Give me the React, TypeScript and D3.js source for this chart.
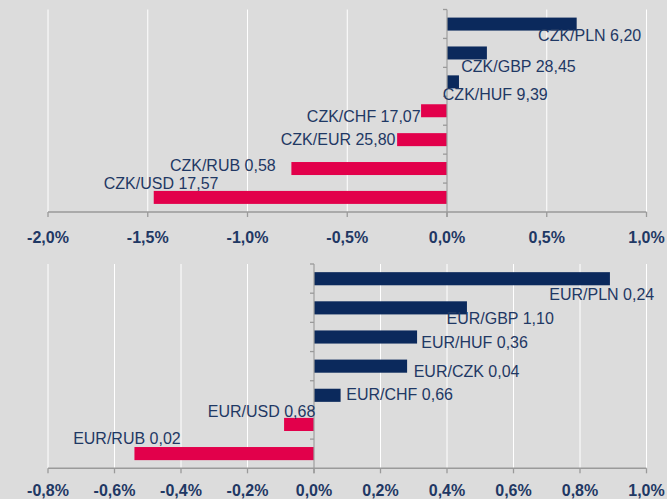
import React from "react";
import * as d3 from "d3";

// ---- data ----
const czkPairs = ["CZK/PLN", "CZK/GBP", "CZK/HUF", "CZK/CHF", "CZK/EUR", "CZK/RUB", "CZK/USD"];
const czkRates = ["6,20", "28,45", "9,39", "17,07", "25,80", "0,58", "17,57"];
const czkChange = [0.65, 0.2, 0.06, -0.13, -0.25, -0.78, -1.47];
const czkTicks = [-2.0, -1.5, -1.0, -0.5, 0.0, 0.5, 1.0];

const eurPairs = ["EUR/PLN", "EUR/GBP", "EUR/HUF", "EUR/CZK", "EUR/CHF", "EUR/USD", "EUR/RUB"];
const eurRates = ["0,24", "1,10", "0,36", "0,04", "0,66", "0,68", "0,02"];
const eurChange = [0.89, 0.46, 0.31, 0.28, 0.08, -0.09, -0.54];
const eurTicks = [-0.8, -0.6, -0.4, -0.2, 0.0, 0.2, 0.4, 0.6, 0.8, 1.0];

// ---- layout (label nudges in px relative to bar end / band centre) ----
const czkLabelNudge = [[13, 11.5], [31.6, 13.5], [36.3, 12.2], [-57.3, 5.5], [-59, -0.5], [-68.6, -2.8], [7.4, -13.8]];
const eurLabelNudge = [[-8.2, 15.5], [33.2, 11], [57.5, 5.2], [59.5, 5.4], [59, -0.9], [-22.5, -13.3], [-7.5, -14.8]];

const W = 667;
const H = 499;
const BG = "#dcdcdc";
const NAVY = "#0b295c";
const RED = "#e2004b";
const TEXT = "#1f3864";
const AXIS = "#9a9a9a";
const FONT = "'Liberation Sans', Arial, sans-serif";

const fmt = (v: number) => v.toFixed(1).replace(".", ",") + "%";

type PanelProps = {
  pairs: string[];
  rates: string[];
  values: number[];
  ticks: number[];
  nudges: number[][];
  x0: number;
  x1: number;
  yTop: number;
  yAxis: number;
  labelY: number;
};

function Panel({ pairs, rates, values, ticks, nudges, x0, x1, yTop, yAxis, labelY }: PanelProps) {
  const x = d3.scaleLinear().domain([ticks[0], ticks[ticks.length - 1]]).range([x0, x1]);
  const y = d3.scaleBand<string>().domain(pairs).range([yTop, yAxis]).paddingInner(0.55).paddingOuter(0.28);
  const zx = x(0);
  const step = (yAxis - yTop) / pairs.length;
  const boundaries = d3.range(pairs.length).map((i) => yTop + i * step);
  return (
    <g>
      {ticks.map((t) => (
        <line key={"g" + t} x1={x(t)} x2={x(t)} y1={yTop} y2={yAxis} stroke="#ffffff" strokeWidth={1} />
      ))}
      {pairs.map((p, i) => {
        const v = values[i];
        return (
          <rect
            key={p}
            x={Math.min(x(v), zx)}
            width={Math.abs(x(v) - zx)}
            y={y(p)}
            height={y.bandwidth()}
            fill={v >= 0 ? NAVY : RED}
          />
        );
      })}
      <line x1={zx} x2={zx} y1={yTop} y2={yAxis + 5} stroke={AXIS} strokeWidth={1.3} />
      {boundaries.map((b, i) => (
        <line key={"yt" + i} x1={zx - 4} x2={zx} y1={b} y2={b} stroke={AXIS} strokeWidth={1.3} />
      ))}
      <line x1={x0} x2={x1} y1={yAxis} y2={yAxis} stroke={AXIS} strokeWidth={1.5} />
      {ticks.map((t) => (
        <line key={"t" + t} x1={x(t)} x2={x(t)} y1={yAxis} y2={yAxis + 5} stroke={AXIS} strokeWidth={1.3} />
      ))}
      {ticks.map((t) => (
        <text
          key={"l" + t}
          x={x(t)}
          y={labelY}
          textAnchor="middle"
          dominantBaseline="central"
          fontFamily={FONT}
          fontWeight="bold"
          fontSize={16}
          fill={TEXT}
        >
          {fmt(t)}
        </text>
      ))}
      {pairs.map((p, i) => {
        const v = values[i];
        const cx = x(v) + nudges[i][0];
        const cy = (y(p) as number) + y.bandwidth() / 2 + nudges[i][1];
        return (
          <text
            key={"dl" + p}
            x={cx}
            y={cy}
            textAnchor="middle"
            dominantBaseline="central"
            fontFamily={FONT}
            fontSize={16}
            fill={TEXT}
          >
            {p + " " + rates[i]}
          </text>
        );
      })}
    </g>
  );
}

export default function App() {
  return (
    <svg
      width={W}
      height={H}
      style={{ position: "absolute", left: 0, top: 0, display: "block" }}
      xmlns="http://www.w3.org/2000/svg"
    >
      <rect x={0} y={0} width={W} height={H} fill={BG} />
      <Panel
        pairs={czkPairs}
        rates={czkRates}
        values={czkChange}
        ticks={czkTicks}
        nudges={czkLabelNudge}
        x0={48}
        x1={646.5}
        yTop={9.5}
        yAxis={212}
        labelY={237}
      />
      <Panel
        pairs={eurPairs}
        rates={eurRates}
        values={eurChange}
        ticks={eurTicks}
        nudges={eurLabelNudge}
        x0={48}
        x1={646.5}
        yTop={264}
        yAxis={468.3}
        labelY={490.5}
      />
    </svg>
  );
}
